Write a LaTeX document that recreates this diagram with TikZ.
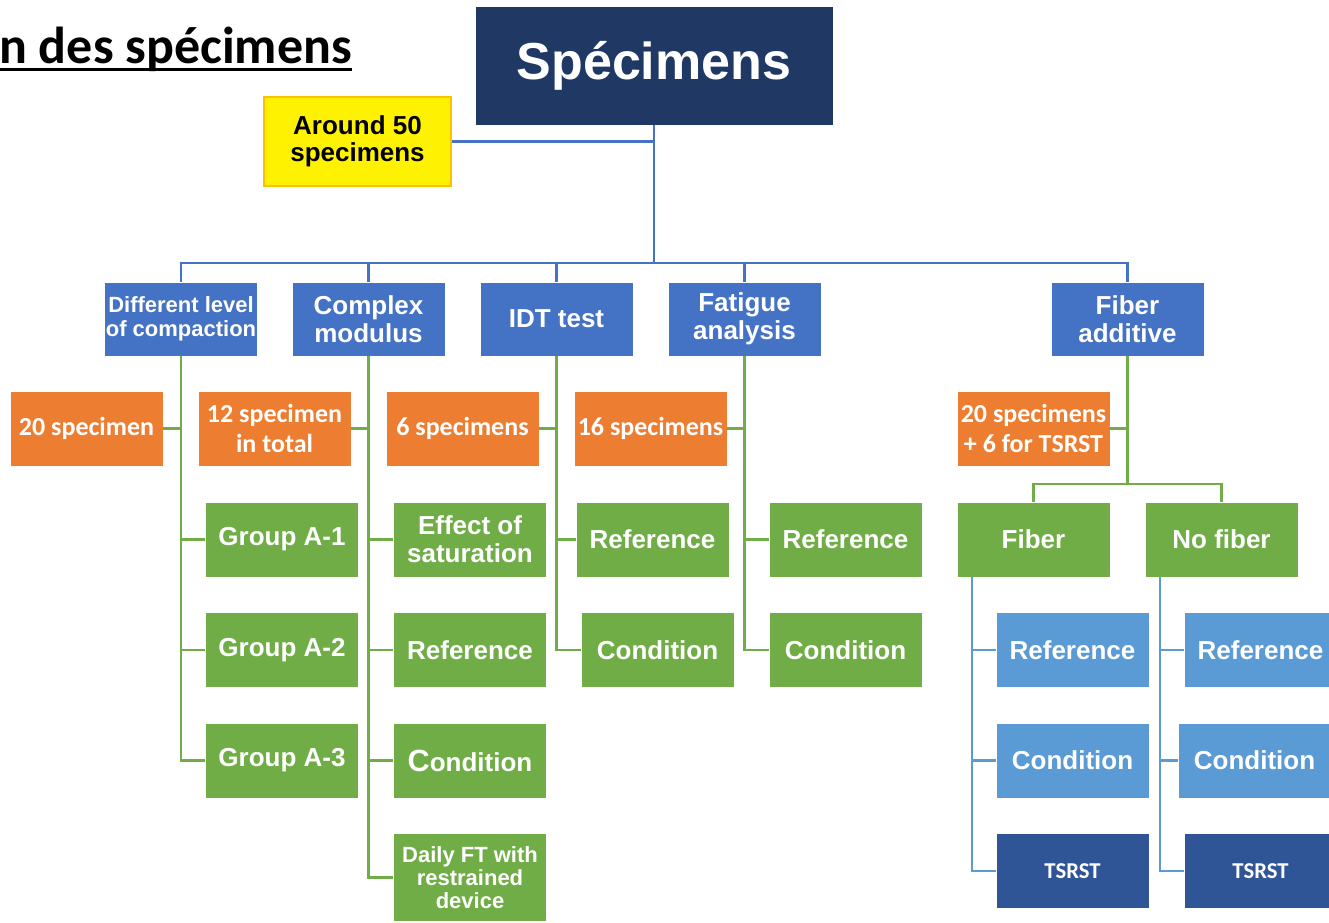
\documentclass[tikz,border=0pt]{standalone}
\usepackage{fontspec}
\setmainfont{Liberation Sans}
\newfontfamily\calib{Carlito}
\usetikzlibrary{positioning}
\definecolor{navy}{HTML}{203864}
\definecolor{topblue}{HTML}{4472C4}
\definecolor{cntorange}{HTML}{ED7D31}
\definecolor{grpgreen}{HTML}{70AD47}
\definecolor{subblue}{HTML}{5B9BD5}
\definecolor{tsrblue}{HTML}{2F5597}
\definecolor{notebord}{HTML}{FFC000}

\begin{document}
\begin{tikzpicture}[
        x=0.75pt, y=-0.75pt,
        node distance=26.25pt and 0pt,
        box/.style={rectangle,draw=white,line width=0.4pt,minimum width=114.75pt,
                    minimum height=56.25pt,inner sep=1pt,align=center,text=white,
                    font=\bfseries\fontsize{19.5}{21}\selectfont},
        head/.style={box,fill=navy,minimum width=268.5pt,minimum height=89.25pt,
                     font=\bfseries\fontsize{39}{40}\selectfont},
        note/.style={box,fill=yellow,draw=notebord,line width=1.5pt,text=black,
                     minimum width=140.25pt,minimum height=66.75pt,
                     font=\bfseries\fontsize{19.5}{20.5}\selectfont},
        lvl/.style={box,fill=topblue,minimum height=55.5pt},
        cnt/.style={box,fill=cntorange,font=\calib\bfseries\fontsize{19.5}{22}\selectfont},
        grp/.style={box,fill=grpgreen},
        sub/.style={box,fill=subblue},
        tsr/.style={box,fill=tsrblue,font=\calib\bfseries\fontsize{17}{18}\selectfont},
        topline/.style={draw=topblue,line width=1.75pt},
        grline/.style={draw=grpgreen,line width=1.75pt},
        sbline/.style={draw=subblue,line width=1.75pt}
      ]
      \useasboundingbox (0,0) rectangle (1329,922);

      \node (title)[anchor=base west,inner sep=0pt,font=\calib\bfseries\fontsize{39}{39}\selectfont] at (-1,63) {n des spécimens};
      \draw[line width=2.25pt] ([yshift=-4.5pt]title.base west) -- ([yshift=-4.5pt]title.base east);

      \node (spec)[head] at (654,65.5) {Spécimens};
      \node (about)[note] at (357.5,141.5) {Around 50\\specimens};

      \node (compact)[lvl,font=\bfseries\fontsize{16.5}{18}\selectfont] at (181,319) {Different level\\of compaction};
      \node (cmod)[lvl] at (368.5,319) {Complex\\modulus};
      \node (idt)[lvl] at (556.5,319) {IDT test};
      \node (fatig)[lvl] at (744.5,319) {Fatigue\\analysis};
      \node (fibadd)[lvl] at (1127.5,319) {Fiber\\additive};

      \node (n20)[cnt] at (86.5,428.5) {20 specimen};
      \node (n12)[cnt] at (274.5,428.5) {12 specimen\\in total};
      \node (n6)[cnt] at (462.5,428.5) {6 specimens};
      \node (n16)[cnt] at (650.5,428.5) {16 specimens};
      \node (n26)[cnt] at (1033.5,428.5) {20 specimens\\+ 6 for TSRST};

      \node (ga1)[grp] at (282,539.5) {Group A-1};
      \node (ga2)[grp,below=of ga1] {Group A-2};
      \node (ga3)[grp,below=of ga2] {Group A-3};

      \node (sat)[grp] at (470,539.5) {Effect of\\saturation};
      \node (cref)[grp,below=of sat] {Reference};
      \node (ccond)[grp,below=of cref] {{\fontsize{23}{23}\selectfont C}ondition};
      \node (daily)[grp,below=of ccond,minimum height=66pt,font=\bfseries\fontsize{16.5}{17.25}\selectfont] {Daily FT with\\restrained\\device};

      \node (iref)[grp] at (652.5,539.5) {Reference};
      \node (icond)[grp,below=of iref,xshift=3.75pt] {Condition};

      \node (fref)[grp] at (845.5,539.5) {Reference};
      \node (fcond)[grp,below=of fref] {Condition};

      \node (fiber)[grp] at (1033.5,539.5) {Fiber};
      \node (nofib)[grp] at (1221.5,539.5) {No fiber};

      \node (fbref)[sub,below=of fiber,xshift=29.25pt] {Reference};
      \node (fbcond)[sub,below=of fbref] {Condition};
      \node (fbts)[tsr,below=of fbcond] {TSRST};
      \node (nfref)[sub,below=of nofib,xshift=29.25pt] {Reference};
      \node (nfcond)[sub,below=of nfref,xshift=-4.5pt] {Condition};
      \node (nfts)[tsr,below=of nfcond,xshift=4.5pt] {TSRST};

      \coordinate (bus) at (654,263);
      \coordinate (split) at (1127.5,484);
      \draw[topline] (about.east) -- (about.east -| spec.south);
      \draw[topline] (spec.south) -- (bus);
      \foreach \n in {compact,cmod,idt,fatig,fibadd}
        \draw[topline] (bus) -| (\n.north);

      \foreach \a/\b in {compact/ga1,compact/ga2,compact/ga3,cmod/sat,cmod/cref,cmod/ccond,cmod/daily,idt/iref,idt/icond,fatig/fref,fatig/fcond}
        \draw[grline] (\a.south) |- (\b.west);
      \foreach \a/\b in {n20/compact,n12/cmod,n6/idt,n16/fatig,n26/fibadd}
        \draw[grline] (\a.east) -- (\a.east -| \b.south);
      \draw[grline] (fibadd.south) -- (split);
      \draw[grline] (split) -| (fiber.north);
      \draw[grline] (split) -| (nofib.north);

      \foreach \a/\b in {fiber/fbref,fiber/fbcond,fiber/fbts,nofib/nfref,nofib/nfcond,nofib/nfts}
        \draw[sbline] ([xshift=11.25pt]\a.south west) |- (\b.west);

    \end{tikzpicture}
\end{document}
